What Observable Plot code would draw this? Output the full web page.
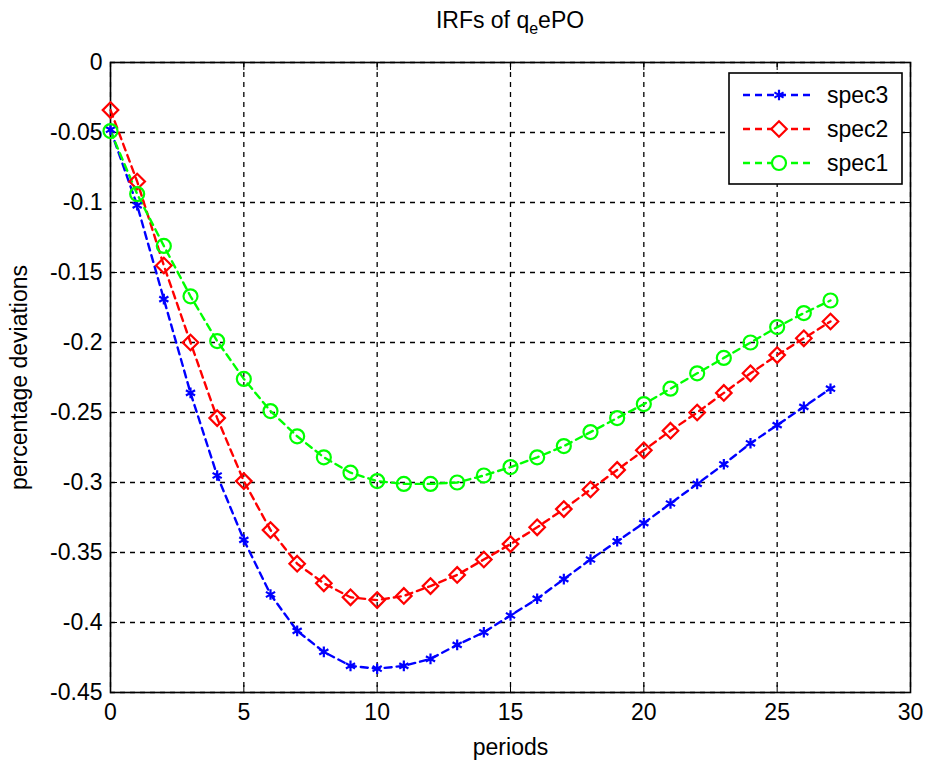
<!DOCTYPE html>
<html>
<head>
<meta charset="utf-8">
<script src="https://cdn.jsdelivr.net/npm/d3@7"></script>
<script src="https://cdn.jsdelivr.net/npm/@observablehq/plot@0.6"></script>
<style>
  html, body { margin: 0; padding: 0; background: white; }
  #wrap { position: relative; width: 928px; height: 760px; font-family: "Liberation Sans", Arial, sans-serif; }
  #title { position: absolute; left: 0; width: 1020px; top: 7px; text-align: center; font-size: 23px; color: #000; }
  #title sub { font-size: 16px; vertical-align: -6px; line-height: 0; }
  #wrap svg text { font-size: 23px; }
</style>
</head>
<body>
<div id="wrap">
  <div id="title">IRFs of q<sub>e</sub>ePO</div>
</div>
<script>
const periods = d3.range(0, 28);
const spec3 = [-0.048, -0.102, -0.169, -0.236, -0.295, -0.341, -0.380, -0.406, -0.421, -0.431,
               -0.433, -0.431, -0.426, -0.416, -0.407, -0.395, -0.383, -0.369, -0.355, -0.342,
               -0.329, -0.315, -0.301, -0.287, -0.272, -0.259, -0.246, -0.233];
const spec2 = [-0.034, -0.085, -0.145, -0.200, -0.254, -0.299, -0.334, -0.358, -0.372, -0.382,
               -0.384, -0.381, -0.374, -0.366, -0.355, -0.344, -0.332, -0.319, -0.305, -0.291,
               -0.277, -0.263, -0.250, -0.236, -0.222, -0.209, -0.197, -0.185];
const spec1 = [-0.049, -0.094, -0.131, -0.167, -0.199, -0.226, -0.249, -0.267, -0.282, -0.293,
               -0.299, -0.301, -0.301, -0.300, -0.295, -0.289, -0.282, -0.274, -0.264, -0.254,
               -0.244, -0.233, -0.222, -0.211, -0.200, -0.189, -0.179, -0.170];
const seriesNames = ["spec3", "spec2", "spec1"];
const seriesColors = ["#0000ff", "#ff0000", "#00ff00"];
const seriesSymbols = ["asterisk", "diamond2", "circle"];
const xTicks = [0, 5, 10, 15, 20, 25, 30];
const yTicks = [0, -0.05, -0.1, -0.15, -0.2, -0.25, -0.3, -0.35, -0.4, -0.45];

const seriesValues = [spec3, spec2, spec1];
const rows = [];
seriesNames.forEach((name, i) => {
  periods.forEach((p, j) => rows.push({series: name, period: p, value: seriesValues[i][j]}));
});

const fmtY = d => (Math.round(d * 100) / 100).toString();
const font = "\"Liberation Sans\", Arial, sans-serif";

const lineMarks = [];
const dotMarks = [];
seriesNames.forEach((name, i) => {
  const data = rows.filter(r => r.series === name);
  lineMarks.push(Plot.line(data, {x: "period", y: "value", stroke: seriesColors[i], strokeWidth: 2.4, strokeDasharray: "7,5"}));
  dotMarks.push(Plot.dot(data, {x: "period", y: "value", stroke: seriesColors[i], symbol: () => seriesSymbols[i],
    r: seriesSymbols[i] === "asterisk" ? 5 : 7, strokeWidth: 2.2, fill: "none"}));
});

const chart = Plot.plot({
  width: 928,
  height: 760,
  marginLeft: 110,
  marginRight: 18,
  marginTop: 62,
  marginBottom: 68,
  style: {fontFamily: font, fontSize: "23px", background: "white", color: "black", overflow: "visible"},
  x: {domain: [0, 30]},
  y: {domain: [-0.45, 0]},
  symbol: {type: "identity"},
  marks: [
    Plot.gridX(xTicks, {stroke: "black", strokeOpacity: 1, strokeWidth: 1.3, strokeDasharray: "5,5"}),
    Plot.gridY(yTicks, {stroke: "black", strokeOpacity: 1, strokeWidth: 1.3, strokeDasharray: "5,5"}),
    Plot.axisX(xTicks, {anchor: "bottom", tickSize: -7, tickPadding: 18, label: "periods", labelAnchor: "center", labelArrow: "none", labelOffset: 62}),
    Plot.axisX(xTicks, {anchor: "top", tickSize: -7, tickFormat: () => "", label: null}),
    Plot.axisY(yTicks, {anchor: "left", tickSize: -7, tickPadding: 15, tickFormat: fmtY, label: "percentage deviations", labelAnchor: "center", labelArrow: "none", labelOffset: 100}),
    Plot.axisY(yTicks, {anchor: "right", tickSize: -7, tickFormat: () => "", label: null}),
    Plot.frame({stroke: "black", strokeWidth: 1.6}),
    ...lineMarks,
    ...dotMarks
  ]
});

document.getElementById("wrap").appendChild(chart);

// Legend box inside the plot area (top-right)
const svg = d3.select(chart);
const lg = svg.append("g").attr("transform", "translate(729,73)");
lg.append("rect").attr("width", 173).attr("height", 111).attr("fill", "white").attr("stroke", "black").attr("stroke-width", 1.6);
const symMap = {asterisk: d3.symbolAsterisk, diamond2: d3.symbolDiamond2, circle: d3.symbolCircle};
seriesNames.forEach((name, i) => {
  const yy = 22 + i * 34;
  lg.append("line").attr("x1", 14).attr("x2", 84).attr("y1", yy).attr("y2", yy)
    .attr("stroke", seriesColors[i]).attr("stroke-width", 2.4).attr("stroke-dasharray", "7,5");
  const r = seriesSymbols[i] === "asterisk" ? 5 : 7;
  lg.append("path").attr("d", d3.symbol(symMap[seriesSymbols[i]], Math.PI * r * r)())
    .attr("transform", `translate(50,${yy})`).attr("fill", "white").attr("stroke", seriesColors[i]).attr("stroke-width", 2.2);
  lg.append("text").attr("x", 98).attr("y", yy).attr("dy", "0.35em").attr("text-anchor", "start")
    .attr("font-family", font).attr("font-size", 23).attr("fill", "black").text(name);
});
</script>
</body>
</html>
